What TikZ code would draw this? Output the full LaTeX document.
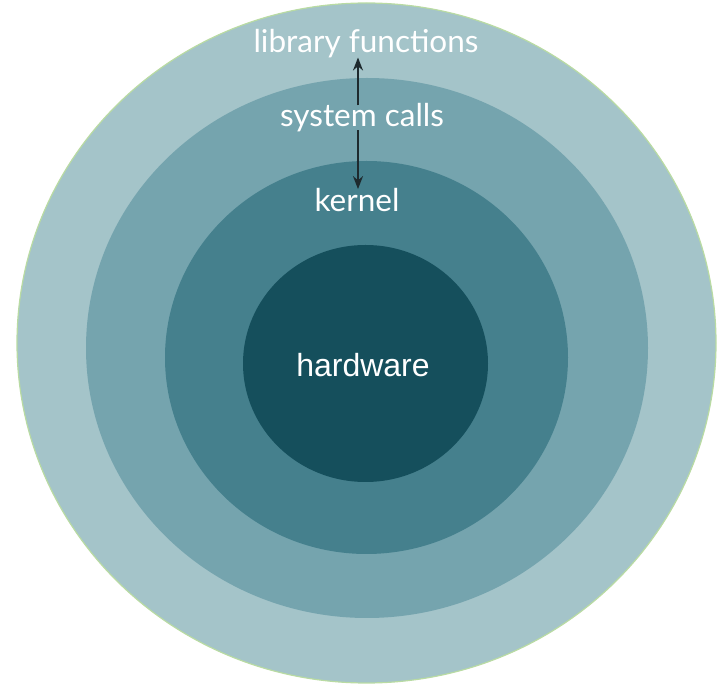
\documentclass[tikz,border=0pt]{standalone}
\usepackage{fontspec}
\setmainfont{Lato}
\newfontfamily\hwfont{Liberation Sans}
\usetikzlibrary{shapes.geometric,arrows.meta}
\definecolor{ringA}{HTML}{A4C4C9}
\definecolor{ringB}{HTML}{75A4AE}
\definecolor{ringC}{HTML}{45808D}
\definecolor{ringD}{HTML}{154F5C}
\definecolor{rimgreen}{HTML}{B9DBA3}
\definecolor{arrowdark}{HTML}{1E2A2E}
\tikzset{
  ring/.style={ellipse, inner sep=0pt, draw=none},
  lbl/.style={text=white, font=\fontsize{31.5}{34}\selectfont, inner sep=0pt},
  conn/.style={draw=arrowdark, line width=1.8pt, -{Stealth[length=13pt,width=10pt]}}
}
\begin{document}
\begin{tikzpicture}[x=1pt,y=-1pt]
\useasboundingbox (0,0) rectangle (724,684);
\node[ring, fill=ringA, draw=rimgreen, line width=1.2pt, minimum width=699pt, minimum height=680pt] (outer) at (366.5,343) {};
\node[ring, fill=ringB, minimum width=562pt, minimum height=540pt] (second) at (367,348) {};
\node[ring, fill=ringC, minimum width=403pt, minimum height=393pt] (third) at (366.5,357.5) {};
\node[ring, fill=ringD, minimum width=245pt, minimum height=237pt] (core) at (365.5,363.5) {};
\node[lbl] (lib) at (366,44) {library functions};
\node[lbl] (sys) at (362,118) {system calls};
\node[lbl] (ker) at (357,200) {kernel};
\node[text=white, inner sep=0pt, font=\hwfont\fontsize{32}{36}\selectfont] (hw) at (363,365) {hardware};
\coordinate (ax) at (358,0);
\draw[conn] ([yshift=-2pt]sys.north -| ax) -- ([yshift=1pt]lib.south -| ax);
\draw[conn] ([yshift=2pt]sys.south -| ax) -- ([yshift=-1pt]ker.north -| ax);
\end{tikzpicture}
\end{document}
